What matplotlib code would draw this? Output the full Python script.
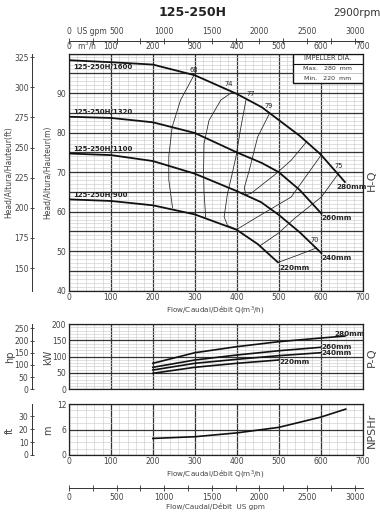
import matplotlib
matplotlib.use('Agg')
import matplotlib.pyplot as plt
from matplotlib.patches import Rectangle
from matplotlib.ticker import MultipleLocator, FuncFormatter

M3H_TO_GPM = 4.40287
FT = 0.3048
KW_PER_HP = 0.7457

# H-Q curves (m3/h, m)
q280 = [0, 100, 200, 300, 400, 460, 500, 550, 600, 658]
h280 = [98.3, 97.8, 97.2, 94.5, 89.8, 86.4, 83.2, 79.2, 74.5, 67.5]
q260 = [0, 100, 200, 300, 400, 460, 500, 550, 602]
h260 = [84.0, 83.7, 82.6, 79.9, 75.0, 72.3, 70.0, 65.5, 59.5]
q240 = [0, 100, 200, 300, 400, 458, 500, 550, 602]
h240 = [74.7, 74.3, 72.8, 69.6, 65.2, 62.4, 59.2, 54.8, 49.5]
q220 = [0, 100, 200, 300, 400, 450, 498]
h220 = [63.1, 62.7, 61.6, 59.3, 55.4, 51.8, 47.2]

hq_names = ['125-250H/1600', '125-250H/1320', '125-250H/1100', '125-250H/900']
dia_labels = ['280mm', '260mm', '240mm', '220mm']

# iso-efficiency lines
eff68_q = [298, 266, 246, 238, 238, 247]
eff68_h = [94.5, 88.2, 81.4, 74.0, 68.0, 61.0]
eff74_q = [390, 362, 334, 322, 321, 322, 326]
eff74_h = [90.3, 88.2, 83.1, 77.2, 70.5, 65.0, 58.6]
eff77_q = [422, 410, 398, 388, 378, 370, 378, 400, 458, 530, 602]
eff77_h = [88.2, 81.4, 73.8, 69.0, 64.6, 58.7, 56.5, 55.5, 59.2, 63.7, 74.4]
eff79_q = [478, 450, 430, 418, 422, 434, 494, 530, 566]
eff79_h = [84.8, 78.9, 70.5, 66.0, 64.3, 64.6, 69.6, 73.0, 77.6]
eff75_q = [456, 500, 538, 602, 645]
eff75_h = [51.4, 54.6, 58.3, 63.7, 70.0]
eff70_q = [500, 546, 590]
eff70_h = [47.2, 49.0, 50.8]

# P-Q (kW)
pq_q = [200, 300, 400, 500, 600, 658]
p280 = [79.6, 112, 130.5, 145.8, 157, 163]
p260 = [67.4, 89.7, 105, 118, 128.6]
p240 = [59, 79.6, 91.8, 103, 112]
p220 = [49, 67.4, 79.6, 89.7]

# NPSHr (m)
npsh_q = [200, 300, 400, 500, 600, 660]
npsh_m = [3.9, 4.3, 5.2, 6.5, 8.9, 10.8]

TXT = '#444444'
LS = 5.5

fig = plt.figure(figsize=(3.8, 5.14), dpi=100)
W, H = 380.0, 514.0
x0 = 69 / W
w = (362.5 - 69) / W


def make_ax(top, bottom):
    return fig.add_axes([x0, 1 - bottom / H, w, (bottom - top) / H])


def style(ax, ymaj, ymin, fmt=None):
    ax.set_xlim(0, 700)
    ax.xaxis.set_major_locator(MultipleLocator(100))
    ax.xaxis.set_minor_locator(MultipleLocator(20))
    ax.yaxis.set_major_locator(MultipleLocator(ymaj))
    ax.yaxis.set_minor_locator(MultipleLocator(ymin))
    if fmt:
        ax.yaxis.set_major_formatter(FuncFormatter(fmt))
    ax.grid(which='major', color='#333333', lw=0.9)
    ax.grid(which='minor', color='#cccccc', lw=0.45)
    ax.set_axisbelow(True)
    ax.tick_params(which='both', length=0, labelsize=LS, labelcolor=TXT, pad=2)
    for s in ax.spines.values():
        s.set_color('#222222')
        s.set_linewidth(0.9)


def left_sec(ax, fwd, inv, ticks):
    sec = ax.secondary_yaxis(-0.126, functions=(fwd, inv))
    sec.set_yticks(ticks)
    sec.tick_params(direction='inout', length=3, width=0.6, labelsize=LS,
                    labelcolor=TXT, color='#333333', pad=1)
    sec.spines['left'].set_color('#333333')
    sec.spines['left'].set_linewidth(0.7)
    return sec


def gpm_axis(ax, loc, side):
    g = ax.secondary_xaxis(loc, functions=(lambda q: q * M3H_TO_GPM, lambda v: v / M3H_TO_GPM))
    g.set_xticks(list(range(0, 3001, 500)))
    g.xaxis.set_minor_locator(MultipleLocator(250))
    g.tick_params(which='both', direction='inout', length=4, width=0.6, labelsize=LS,
                  labelcolor=TXT, color='#333333', pad=1.5)
    g.spines[side].set_linewidth(0.7)
    g.spines[side].set_color('#333333')
    return g


# ---- H-Q
ax1 = make_ax(53.5, 290.7)
ax1.set_ylim(40, 100)
style(ax1, 5, 1, lambda v, p: '%d' % v if v % 10 == 0 and v < 100 else '')
ax1.tick_params(axis='x', labeltop=True, labelbottom=True, pad=1.5)

for q, h in [(q280, h280), (q260, h260), (q240, h240), (q220, h220)]:
    ax1.plot(q, h, color='#111111', lw=1.3, zorder=4)

for q, h in [(eff68_q, eff68_h), (eff74_q, eff74_h), (eff77_q, eff77_h),
             (eff79_q, eff79_h), (eff75_q, eff75_h), (eff70_q, eff70_h)]:
    ax1.plot(q, h, color='#222222', lw=0.55, zorder=3)

name_y = [96.6, 85.2, 75.8, 64.2]
for n, y in zip(hq_names, name_y):
    ax1.text(10, y, n, fontsize=5, fontweight='bold', color='#222222', va='center', zorder=5)

dia_pos = [(638, 66.2), (602, 58.3), (602, 48.3), (501, 45.8)]
for n, (x, y) in zip(dia_labels, dia_pos):
    ax1.text(x, y, n, fontsize=5.2, fontweight='bold', color='#222222', va='center', zorder=5)

eff_labels = [('68', 297, 95.8), ('74', 381, 92.3), ('77', 434, 89.8),
              ('79', 477, 86.7), ('75', 643, 71.6), ('70', 585, 52.9)]
for t, x, y in eff_labels:
    ax1.text(x, y, t, fontsize=4.8, color='#222222', ha='center', va='center', zorder=5)

# impeller table
bx0, by0 = 0.764, 0.874
ax1.add_patch(Rectangle((bx0, by0), 1 - bx0, 1 - by0, transform=ax1.transAxes,
                        facecolor='white', edgecolor='#111111', lw=1.0, zorder=6))
ax1.plot([bx0, 1], [0.957, 0.957], transform=ax1.transAxes, color='#111111', lw=0.8, zorder=7)
ax1.plot([bx0, 1], [0.917, 0.917], transform=ax1.transAxes, color='#999999', lw=0.4, zorder=7)
ax1.text(0.882, 0.979, 'IMPELLER DIA.', transform=ax1.transAxes, fontsize=4.8,
         ha='center', va='center', color='#333333', zorder=8)
ax1.text(0.882, 0.937, 'Max.   280  mm', transform=ax1.transAxes, fontsize=4.5,
         ha='center', va='center', color='#333333', zorder=8)
ax1.text(0.882, 0.896, 'Min.   220  mm', transform=ax1.transAxes, fontsize=4.5,
         ha='center', va='center', color='#333333', zorder=8)

ax1.text(0.027, 1.006, 'm$^3$/h', transform=ax1.transAxes, fontsize=LS, color=TXT, va='bottom')

left_sec(ax1, lambda m: m / FT, lambda f: f * FT, list(range(150, 326, 25)))
gpm_axis(ax1, 1.053, 'top')
ax1.text(0.027, 1.074, 'US gpm', transform=ax1.transAxes, fontsize=LS, color=TXT, va='bottom')

# ---- P-Q
ax2 = make_ax(324, 389.3)
ax2.set_ylim(0, 200)
style(ax2, 50, 10)
ax2.tick_params(axis='x', labelbottom=False)
for p in [p280, p260, p240, p220]:
    ax2.plot(pq_q[:len(p)], p, color='#111111', lw=1.2, zorder=4)
pq_lab = [(633, 168), (602, 130), (602, 110), (501, 83)]
for n, (x, y) in zip(dia_labels, pq_lab):
    ax2.text(x, y, n, fontsize=5.2, fontweight='bold', color='#222222', va='center', zorder=5)
left_sec(ax2, lambda k: k / KW_PER_HP, lambda hp: hp * KW_PER_HP, list(range(0, 251, 50)))

# ---- NPSHr
ax3 = make_ax(404, 455)
ax3.set_ylim(0, 12)
style(ax3, 6, 1.5)
ax3.tick_params(axis='x', pad=1.5)
ax3.plot(npsh_q, npsh_m, color='#111111', lw=1.2, zorder=4)
left_sec(ax3, lambda m: m / FT, lambda f: f * FT, [0, 10, 20, 30])
gpm_axis(ax3, -0.641, 'bottom')

# ---- texts
fig.text(192.5 / W, 1 - 12 / H, '125-250H', fontsize=9, fontweight='bold',
         ha='center', va='center', color='#222222')
fig.text(357 / W, 1 - 13 / H, '2900rpm', fontsize=7.5, ha='center', va='center', color='#333333')

fig.text(9 / W, 1 - 172 / H, 'Head/Altura/Hauteur(ft)', rotation=90, fontsize=LS,
         ha='center', va='center', color=TXT)
fig.text(48 / W, 1 - 172 / H, 'Head/Altura/Hauteur(m)', rotation=90, fontsize=LS,
         ha='center', va='center', color=TXT)
fig.text(10 / W, 1 - 357 / H, 'hp', rotation=90, fontsize=7, ha='center', va='center', color=TXT)
fig.text(48 / W, 1 - 357 / H, 'kW', rotation=90, fontsize=7, ha='center', va='center', color=TXT)
fig.text(10 / W, 1 - 430 / H, 'ft', rotation=90, fontsize=7, ha='center', va='center', color=TXT)
fig.text(48 / W, 1 - 430 / H, 'm', rotation=90, fontsize=7, ha='center', va='center', color=TXT)

fig.text(372 / W, 1 - 180 / H, 'H-Q', rotation=90, fontsize=8, ha='center', va='center', color=TXT)
fig.text(372 / W, 1 - 357 / H, 'P-Q', rotation=90, fontsize=8, ha='center', va='center', color=TXT)
fig.text(372 / W, 1 - 430 / H, 'NPSHr', rotation=90, fontsize=8, ha='center', va='center', color=TXT)

fig.text(215 / W, 1 - 311 / H, 'Flow/Caudal/Débit Q(m$^3$/h)', fontsize=LS - 0.3,
         ha='center', va='center', color=TXT)
fig.text(215 / W, 1 - 474.5 / H, 'Flow/Caudal/Débit Q(m$^3$/h)', fontsize=LS - 0.3,
         ha='center', va='center', color=TXT)
fig.text(215 / W, 1 - 506 / H, 'Flow/Caudal/Débit  US gpm', fontsize=LS - 0.3,
         ha='center', va='center', color=TXT)

fig.savefig('out.png', dpi=100)
